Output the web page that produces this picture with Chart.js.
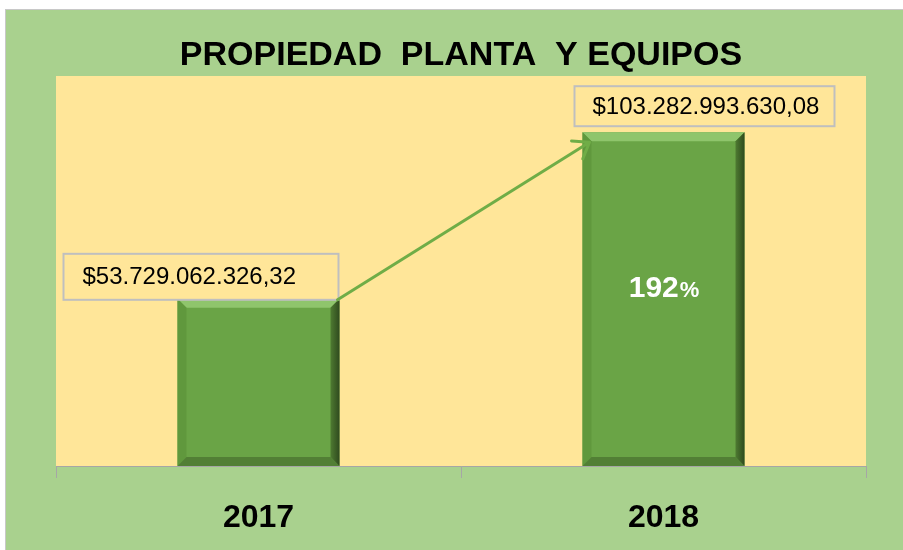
<!DOCTYPE html>
<html>
<head>
<meta charset="utf-8">
<script src="https://cdn.jsdelivr.net/npm/chart.js@4.4.0/dist/chart.umd.min.js"></script>
<style>
  html, body { margin: 0; padding: 0; background: #fff; }
  body { width: 903px; height: 550px; position: relative; overflow: hidden; }
  #frame {
    position: absolute; left: 5px; top: 9px; width: 898px; height: 541px;
    background: #a9d18e; border-top: 1px solid #c8c8c8; border-left: 1px solid #c8c8c8;
    box-sizing: border-box; overflow: hidden;
  }
  #chart { display: block; }
</style>
</head>
<body>
<div id="frame"><canvas id="chart" width="897" height="548"></canvas></div>
<script>
// 데이터
const categories = ['2017', '2018'];
const values = [53729062326.32, 103282993630.08];
const titleText = 'PROPIEDAD  PLANTA  Y EQUIPOS';
const yMin = 4000000000;
const yMax = 120000000000;

// 스타일
const barColor = '#6aa446';
const plotColor = '#ffe699';
const arrowColor = '#70ad47';
const labelBoxes = [
  { dx: -114, w: 275, h: 46, gap: -1, pad: 19 },
  { dx: -8, w: 260, h: 40, gap: 6, pad: 18 }
];

/**
 * 금액 포맷 ($1.234,56)
 */
function formatMoney(v) {
  const [ent, dec] = v.toFixed(2).split('.');
  return '$' + ent.replace(/\B(?=(\d{3})+(?!\d))/g, '.') + ',' + dec;
}

/**
 * 플롯 영역 배경
 */
const plotBg = {
  id: 'plotBg',
  beforeDraw(chart) {
    const { ctx, chartArea: a } = chart;
    ctx.save();
    ctx.fillStyle = plotColor;
    ctx.fillRect(a.left, a.top, a.right - a.left, a.bottom - a.top);
    ctx.restore();
  }
};

/**
 * 막대 베벨 효과 + 라벨 + 화살표
 */
const decorations = {
  id: 'decorations',
  afterDatasetsDraw(chart) {
    const ctx = chart.ctx;
    const bars = chart.getDatasetMeta(0).data;

    // 베벨
    bars.forEach(bar => {
      const l = bar.x - bar.width / 2, r = bar.x + bar.width / 2;
      const t = bar.y, b = Math.min(bar.base, chart.chartArea.bottom), e = 9;
      const poly = (pts, fill) => {
        ctx.beginPath();
        ctx.moveTo(pts[0][0], pts[0][1]);
        pts.slice(1).forEach(p => ctx.lineTo(p[0], p[1]));
        ctx.closePath();
        ctx.fillStyle = fill;
        ctx.fill();
      };
      ctx.save();
      poly([[l, t], [r, t], [r - e, t + e], [l + e, t + e]], '#8fc56c');
      poly([[l, b], [l, t], [l + e, t + e], [l + e, b - e]], '#60983d');
      poly([[l, b], [r, b], [r - e, b - e], [l + e, b - e]], '#527f35');
      let g = ctx.createLinearGradient(r - e, 0, r, 0);
      g.addColorStop(0, '#4e7a31');
      g.addColorStop(1, '#2f4a1e');
      poly([[r, t], [r, b], [r - e, b - e], [r - e, t + e]], g);
      ctx.restore();
    });

    // 값 라벨 박스
    bars.forEach((bar, i) => {
      const s = labelBoxes[i];
      const l = bar.x - bar.width / 2 + s.dx;
      const bottom = bar.y - s.gap;
      const top = bottom - s.h;
      ctx.save();
      ctx.fillStyle = plotColor;
      ctx.fillRect(l, top, s.w, s.h);
      ctx.strokeStyle = '#bfbfbf';
      ctx.lineWidth = 2;
      ctx.strokeRect(l, top, s.w, s.h);
      ctx.fillStyle = '#000';
      ctx.font = '24px "Liberation Sans", Arial, sans-serif';
      ctx.textBaseline = 'middle';
      ctx.fillText(formatMoney(values[i]), l + s.pad, top + s.h / 2 + 1);
      ctx.restore();
    });

    // 화살표
    const b0 = bars[0], b1 = bars[1];
    const x0 = b0.x + b0.width / 2 - 2, y0 = b0.y + 1;
    const x1 = b1.x - b1.width / 2 + 7, y1 = b1.y + 10;
    const ang = Math.atan2(y1 - y0, x1 - x0);
    ctx.save();
    ctx.strokeStyle = arrowColor;
    ctx.lineWidth = 3;
    ctx.lineCap = 'round';
    ctx.beginPath();
    ctx.moveTo(x0, y0);
    ctx.lineTo(x1, y1);
    [Math.PI * 0.8, -Math.PI * 0.8].forEach(d => {
      ctx.moveTo(x1, y1);
      ctx.lineTo(x1 + 18 * Math.cos(ang + d), y1 + 18 * Math.sin(ang + d));
    });
    ctx.stroke();
    ctx.restore();

    // 증가율
    const pct = Math.round(values[1] / values[0] * 100);
    const main = String(pct);
    const bBase = Math.min(b1.base, chart.chartArea.bottom);
    ctx.save();
    ctx.fillStyle = '#fff';
    ctx.textBaseline = 'alphabetic';
    ctx.font = 'bold 30px "Liberation Sans", Arial, sans-serif';
    const w1 = ctx.measureText(main).width;
    ctx.font = 'bold 22px "Liberation Sans", Arial, sans-serif';
    const w2 = ctx.measureText('%').width;
    const sx = b1.x - (w1 + w2) / 2;
    const baseY = (b1.y + bBase) / 2 - 2;
    ctx.font = 'bold 30px "Liberation Sans", Arial, sans-serif';
    ctx.fillText(main, sx, baseY);
    ctx.font = 'bold 22px "Liberation Sans", Arial, sans-serif';
    ctx.fillText('%', sx + w1 + 1, baseY);
    ctx.restore();
  }
};

function init() {
  const ctx = document.getElementById('chart').getContext('2d');
  new Chart(ctx, {
    type: 'bar',
    data: {
      labels: categories,
      datasets: [{
        data: values,
        base: yMin,
        backgroundColor: barColor,
        borderWidth: 0,
        categoryPercentage: 0.8,
        barPercentage: 0.5
      }]
    },
    options: {
      responsive: false,
      animation: false,
      layout: { padding: { left: 50, right: 37, top: 0, bottom: 0 } },
      plugins: {
        legend: { display: false },
        tooltip: { enabled: false },
        title: {
          display: true,
          text: titleText,
          color: '#000',
          font: { family: '"Liberation Sans", Arial, sans-serif', size: 34, weight: 'bold', lineHeight: 1.0 },
          padding: { top: 29, bottom: 3 }
        }
      },
      scales: {
        y: { display: false, min: yMin, max: yMax },
        x: {
          border: { display: true, color: '#a6a6a6', width: 1 },
          grid: { display: true, drawOnChartArea: false, drawTicks: true, tickLength: 12, color: '#a6a6a6' },
          ticks: {
            color: '#000',
            padding: 24,
            font: { family: '"Liberation Sans", Arial, sans-serif', size: 32, weight: 'bold', lineHeight: 1.0 }
          }
        }
      }
    },
    plugins: [plotBg, decorations]
  });
}

document.addEventListener('DOMContentLoaded', init);
</script>
</body>
</html>
